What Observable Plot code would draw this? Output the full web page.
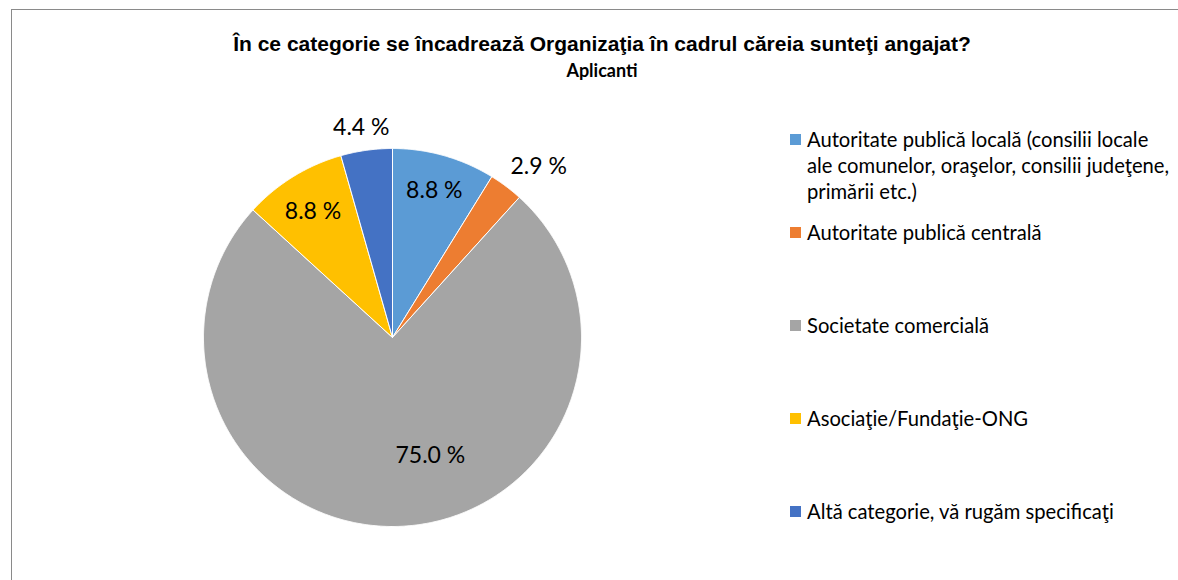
<!DOCTYPE html>
<html>
<head>
<meta charset="utf-8">
<script src="https://cdn.jsdelivr.net/npm/d3@7"></script>
<script src="https://cdn.jsdelivr.net/npm/@observablehq/plot@0.6"></script>
<style>
  html, body { margin: 0; padding: 0; background: #fff; overflow: hidden; }
  body { width: 1178px; height: 580px; position: relative; }
  #frame { position: absolute; left: 11px; top: 9px; width: 1167px; height: 571px;
           border-top: 1px solid #8a8a8a; border-left: 1px solid #8a8a8a; box-sizing: border-box; }
  #title { position: absolute; left: 202px; width: 800px; top: 31px; text-align: center;
           font-family: "Liberation Sans", Arial, sans-serif; font-weight: bold; font-size: 21px; color: #000; line-height: 26px; white-space: nowrap; }
  #subtitle { position: absolute; left: 202px; width: 800px; top: 59px; text-align: center;
           font-family: Lato, "Liberation Sans", sans-serif; font-weight: bold; font-size: 18px; color: #000; line-height: 22px; }
  #chart { position: absolute; left: 0; top: 0; }
  #legend { position: absolute; left: 790px; top: 126px; font-family: Lato, "Open Sans", sans-serif; font-size: 20.2px; color: #000; }
  .item { position: absolute; left: 0; display: flex; align-items: flex-start; line-height: 26px; white-space: pre; }
  .sw { width: 11px; height: 11px; flex: none; margin-top: 8px; margin-right: 6px; }
</style>
</head>
<body>
<div id="frame"></div>
<div id="chart"></div>
<div id="title">În ce categorie se încadrează Organizaţia în cadrul căreia sunteţi angajat?</div>
<div id="subtitle">Aplicanti</div>
<div id="legend"></div>
<script>
const categories = [
  "Autoritate publică locală (consilii locale ale comunelor, oraşelor, consilii judeţene, primării etc.)",
  "Autoritate publică centrală",
  "Societate comercială",
  "Asociaţie/Fundaţie-ONG",
  "Altă categorie, vă rugăm specificaţi"
];
const values = [8.8, 2.9, 75.0, 8.8, 4.4];
const valueLabels = ["8.8 %", "2.9 %", "75.0 %", "8.8 %", "4.4 %"];
const colors = ["#5B9BD5", "#ED7D31", "#A5A5A5", "#FFC000", "#4472C4"];

// layout / style settings
const W = 780, H = 580, CX = 392, CY = 337, R = 189;
const labelRadius = [0.81, 1.19, 0.66, 0.78, 1.12];
const labelShift = [[0, 0], [11, -9], [32, 6], [-2, 0], [-2, 0]];
const legendBreaks = [[5, 10], [], [], [], []]; // break after n-th word

const arcs = d3.pie().sort(null).value(d => d)(values);
const pts = [];
arcs.forEach((a, i) => {
  const cat = categories[i];
  pts.push({cat, x: 0, y: 0});
  const n = Math.max(2, Math.ceil((a.endAngle - a.startAngle) / 0.005));
  for (let k = 0; k <= n; k++) {
    const t = a.startAngle + (a.endAngle - a.startAngle) * k / n;
    pts.push({cat, x: R * Math.sin(t), y: R * Math.cos(t)});
  }
  pts.push({cat, x: 0, y: 0});
});
const labelData = arcs.map((a, i) => {
  const m = (a.startAngle + a.endAngle) / 2;
  const r = R * labelRadius[i];
  return {text: valueLabels[i], x: r * Math.sin(m) + labelShift[i][0], y: r * Math.cos(m) + labelShift[i][1]};
});

const chart = Plot.plot({
  width: W, height: H,
  margin: 0,
  x: {domain: [-CX, W - CX], axis: null},
  y: {domain: [-(H - CY), CY], axis: null},
  color: {domain: categories, range: colors},
  style: {fontFamily: "Lato, 'Open Sans', sans-serif", background: "transparent"},
  marks: [
    Plot.line(pts, {x: "x", y: "y", z: "cat", fill: "cat", stroke: "#fff", strokeWidth: 1, strokeLinejoin: "round"}),
    Plot.text(labelData, {x: "x", y: "y", text: "text", fontSize: 23, fill: "#000"})
  ]
});
document.getElementById("chart").appendChild(chart);

const legend = document.getElementById("legend");
categories.forEach((c, i) => {
  const words = c.split(" ");
  const text = words.map((w, k) => w + (k === words.length - 1 ? "" : (legendBreaks[i].includes(k + 1) ? "\n" : " "))).join("");
  const it = document.createElement("div");
  it.className = "item";
  it.style.top = (i * 93) + "px";
  const sw = document.createElement("div");
  sw.className = "sw";
  sw.style.background = colors[i];
  const tx = document.createElement("div");
  tx.textContent = text;
  it.appendChild(sw); it.appendChild(tx);
  legend.appendChild(it);
});
</script>
</body>
</html>
